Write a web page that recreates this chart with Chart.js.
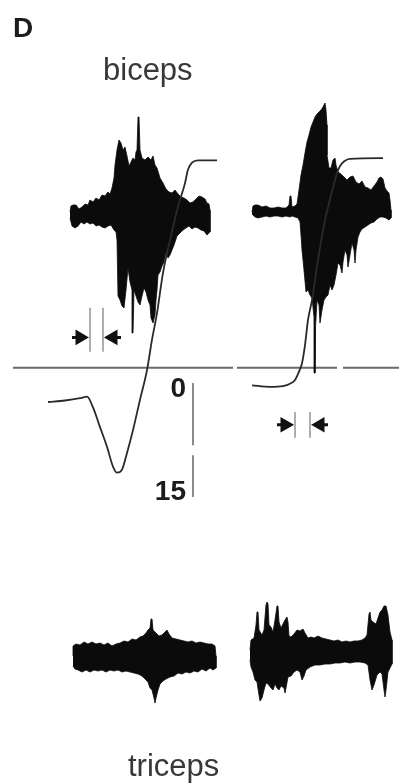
<!DOCTYPE html>
<html>
<head>
<meta charset="utf-8">
<script src="https://cdn.jsdelivr.net/npm/chart.js@4/dist/chart.umd.min.js"></script>
<style>
  html, body { margin: 0; padding: 0; background: #fff; }
  #wrap { width: 399px; height: 784px; position: relative; }
</style>
</head>
<body>
<div id="wrap"><canvas id="emg"></canvas></div>
<script>
// Time in ms. EMG in arbitrary units about each channel's baseline.
// Elbow angle in degrees (downward positive on the drawn axis).

// ---- biceps, trial A (left) : upper edge left->right, lower edge right->left
const bicepsA_upper = [[140,0],[142,6],[146,7],[152,7],[158,3],[164,5],[170,8],[176,7],[180,12],[186,10],[192,14],[198,12],[204,17],[210,16],[216,20],[220,18],[224,24],[228,34],[230,47],[234,62],[238,72],[242,69],[246,62],[250,65],[254,56],[258,46],[262,50],[266,54],[270,52],[272,60],[274,62],[276,95],[278,95],[280,62],[284,54],[290,52],[296,55],[302,52],[306,56],[310,47],[314,44],[320,34],[326,29],[332,23],[338,20],[344,19],[350,22],[356,18],[362,15],[368,14],[374,12],[380,9],[386,10],[392,13],[398,16],[404,15],[410,13],[414,9],[418,8],[420,2]];
const bicepsA_lower = [[420,-20],[414,-23],[408,-19],[402,-18],[396,-16],[390,-15],[384,-17],[378,-14],[372,-16],[366,-18],[360,-21],[354,-24],[348,-33],[344,-38],[340,-43],[336,-46],[332,-40],[328,-50],[324,-54],[320,-60],[316,-63],[314,-78],[312,-88],[310,-103],[306,-111],[302,-106],[300,-93],[296,-88],[292,-80],[288,-76],[284,-84],[280,-93],[276,-90],[272,-84],[268,-78],[266,-121],[265,-121],[264,-78],[260,-70],[256,-56],[252,-78],[248,-96],[244,-94],[240,-88],[236,-84],[234,-28],[232,-20],[228,-18],[222,-13],[216,-14],[210,-16],[204,-15],[198,-13],[192,-14],[186,-11],[180,-12],[174,-10],[168,-12],[162,-10],[156,-14],[150,-16],[144,-14],[140,-6]];

// ---- biceps, trial B (right)
const bicepsB_upper = [[504,0],[506,6],[510,7],[516,7],[524,5],[532,6],[540,4],[548,4],[556,5],[564,4],[572,4],[578,7],[580,16],[582,16],[584,5],[590,6],[594,8],[598,22],[602,37],[606,47],[610,59],[614,70],[618,77],[622,85],[626,90],[630,95],[634,98],[638,100],[642,102],[646,105],[650,109],[652,102],[654,87],[654,57],[658,44],[662,44],[666,52],[670,54],[672,47],[676,40],[682,38],[688,35],[694,32],[700,35],[706,36],[712,30],[718,28],[724,31],[730,25],[736,24],[742,22],[748,26],[754,30],[758,34],[762,35],[766,33],[770,24],[774,21],[778,19],[780,12],[782,2]];
const bicepsB_lower = [[782,-6],[778,-8],[772,-6],[766,-5],[760,-5],[754,-7],[748,-10],[742,-11],[736,-13],[730,-15],[724,-17],[720,-20],[716,-25],[712,-38],[710,-51],[708,-38],[704,-31],[700,-43],[696,-55],[694,-43],[690,-38],[686,-50],[684,-61],[680,-53],[676,-51],[672,-63],[668,-73],[664,-78],[660,-73],[656,-83],[652,-85],[648,-88],[644,-98],[640,-111],[638,-93],[634,-88],[631,-115],[630,-161],[629,-161],[628,-105],[624,-86],[620,-83],[616,-78],[612,-80],[608,-58],[604,-38],[602,-23],[600,-10],[596,-6],[590,-5],[584,-4],[580,-5],[572,-4],[564,-5],[556,-4],[548,-4],[540,-5],[532,-4],[524,-5],[516,-6],[510,-5],[504,-2]];

// ---- triceps, trial A (left)
const tricepsA_upper = [[146,0],[146,10],[152,12],[160,11],[168,14],[176,12],[184,14],[192,12],[200,13],[208,11],[216,13],[224,10],[232,12],[240,13],[248,15],[256,14],[264,17],[272,16],[280,19],[286,20],[292,23],[296,26],[300,28],[302,37],[304,37],[306,26],[312,23],[318,20],[324,21],[330,24],[334,26],[338,22],[344,18],[352,17],[360,16],[368,15],[376,14],[384,15],[392,13],[400,14],[408,13],[416,12],[424,12],[430,10],[432,0]];
const tricepsA_lower = [[432,-12],[426,-14],[420,-12],[412,-15],[404,-13],[396,-16],[388,-15],[380,-17],[372,-16],[364,-18],[356,-17],[348,-20],[340,-21],[332,-23],[326,-25],[320,-28],[316,-34],[312,-42],[310,-47],[308,-42],[304,-34],[300,-32],[296,-26],[290,-23],[284,-20],[276,-18],[268,-17],[260,-16],[252,-15],[244,-16],[236,-14],[228,-15],[220,-14],[212,-16],[204,-14],[196,-15],[188,-14],[180,-16],[172,-14],[164,-16],[156,-14],[150,-13],[146,-10]];

// ---- triceps, trial B (right)
const tricepsB_upper = [[500,6],[502,16],[508,18],[512,31],[514,44],[516,44],[518,26],[524,21],[528,26],[532,51],[534,54],[536,52],[538,31],[542,29],[546,24],[550,36],[554,50],[556,50],[558,34],[562,28],[566,32],[570,36],[574,39],[576,34],[578,20],[582,19],[588,22],[594,26],[600,25],[606,27],[610,23],[616,18],[622,19],[628,18],[636,20],[644,18],[652,17],[660,16],[668,15],[676,16],[684,14],[692,15],[700,14],[708,15],[716,15],[724,16],[730,18],[734,21],[738,42],[740,44],[742,36],[746,34],[752,32],[756,38],[760,44],[764,46],[768,50],[772,50],[776,41],[780,24],[784,16],[784,6]];
const tricepsB_lower = [[784,-8],[780,-12],[776,-16],[772,-34],[770,-41],[768,-34],[764,-18],[760,-16],[754,-19],[748,-29],[744,-34],[740,-24],[736,-9],[730,-7],[720,-6],[710,-6],[700,-7],[690,-6],[680,-7],[670,-7],[660,-8],[650,-8],[640,-9],[630,-9],[620,-11],[612,-14],[608,-20],[604,-24],[600,-16],[594,-14],[588,-16],[582,-20],[576,-21],[572,-32],[570,-37],[568,-32],[562,-30],[558,-34],[554,-32],[550,-28],[546,-34],[542,-32],[536,-28],[532,-27],[528,-34],[524,-42],[520,-45],[518,-39],[514,-26],[510,-24],[506,-16],[502,-11],[500,-4]];

// ---- elbow angle traces
const angleA = [[96,2.5],[130,2.3],[160,2.0],[174,1.8],[186,3.2],[200,5.8],[214,8.4],[226,11.0],[234,11.8],[244,11.4],[254,9.2],[266,6.2],[280,2.2],[294,-1.7],[304,-5.7],[314,-9.2],[326,-14.5],[340,-18.8],[356,-23.2],[370,-26.3],[376,-28.1],[384,-29.0],[396,-29.3],[434,-29.3]];
const angleB = [[504,0.3],[540,0.5],[566,0.4],[580,0.1],[590,-0.4],[598,-1.5],[604,-2.6],[610,-5.0],[616,-8.3],[624,-10.9],[636,-16.2],[650,-21.4],[662,-24.7],[670,-26.7],[676,-28.0],[684,-28.9],[700,-29.5],[766,-29.6]];

// ---- reference level, angle scale bar, interval cues
const referenceAngle = -2.0;
const referenceSpans = [[26,466],[474,674],[686,798]];
const scaleBarTime = 386;
const scaleBarRange = [0, 15];
const cueTimesA = [180, 206];
const cueTimesB = [590, 620];

// ---------------------------------------------------------------
const pts = arr => arr.map(([x, y]) => ({ x, y }));
const outline = (upper, lower) => pts(upper.concat(lower));

const INK = '#0b0b0b';
const emgSet = (upper, lower, axis) => ({
  data: outline(upper, lower), yAxisID: axis,
  fill: 'shape', backgroundColor: INK, borderColor: INK, borderWidth: 0.8,
  pointRadius: 0, tension: 0, clip: false
});
const lineSet = (data, color, width, extra) => Object.assign({
  data, yAxisID: 'ang', borderColor: color, borderWidth: width,
  fill: false, pointRadius: 0, tension: 0, spanGaps: false, clip: false
}, extra || {});

function refLine() {
  const d = [];
  referenceSpans.forEach(([a, b], i) => {
    if (i) d.push({ x: a - 2, y: null });
    d.push({ x: a, y: referenceAngle }, { x: b, y: referenceAngle });
  });
  return d;
}
function barLine() {
  const [lo, hi] = scaleBarRange;
  return [{ x: scaleBarTime, y: lo }, { x: scaleBarTime, y: 8.2 }, { x: scaleBarTime, y: null },
          { x: scaleBarTime, y: 9.5 }, { x: scaleBarTime, y: hi }];
}
function cueBars(times, lo, hi) {
  return [{ x: times[0], y: lo }, { x: times[0], y: hi }, { x: times[0], y: null },
          { x: times[1], y: lo }, { x: times[1], y: hi }];
}
function cueShafts(times, level) {
  return [{ x: times[0] - 36, y: level }, { x: times[0] - 22, y: level }, { x: times[0], y: null },
          { x: times[1] + 22, y: level }, { x: times[1] + 36, y: level }];
}
function cueHeads(times, level) {
  return [{ x: times[0] - 20, y: level }, { x: times[1] + 20, y: level }];
}
const headSet = (times, level) => ({
  data: cueHeads(times, level), yAxisID: 'ang', showLine: false,
  pointStyle: 'triangle', pointRadius: 7.5, pointRotation: [90, -90],
  pointBackgroundColor: '#111', pointBorderColor: '#111', pointBorderWidth: 1.5, clip: false
});

const panelText = {
  id: 'panelText',
  beforeDraw(chart) {
    const c = chart.ctx;
    c.save(); c.fillStyle = '#fff'; c.fillRect(0, 0, chart.width, chart.height); c.restore();
  },
  afterDraw(chart) {
    const c = chart.ctx, xs = chart.scales.x, as = chart.scales.ang;
    c.save();
    c.fillStyle = '#1c1c1c';
    c.textBaseline = 'alphabetic';
    c.font = 'bold 28px "Liberation Sans", Arial, sans-serif';
    c.fillText('D', 13, 37);
    c.fillStyle = '#383838';
    c.font = '31px "Liberation Sans", Arial, sans-serif';
    c.fillText('biceps', 103, 80);
    c.fillText('triceps', 128, 776);
    c.fillStyle = '#1c1c1c';
    c.font = 'bold 28px "Liberation Sans", Arial, sans-serif';
    c.textAlign = 'right';
    const bx = xs.getPixelForValue(scaleBarTime) - 7;
    c.fillText(String(scaleBarRange[0]), bx, as.getPixelForValue(scaleBarRange[0]) + 14);
    c.fillText(String(scaleBarRange[1]), bx, as.getPixelForValue(scaleBarRange[1]) + 3);
    c.restore();
  }
};

new Chart(document.getElementById('emg'), {
  type: 'line',
  data: {
    datasets: [
      headSet(cueTimesA, -6.0),
      headSet(cueTimesB, 5.5),
      lineSet(cueShafts(cueTimesA, -6.0), '#111', 3),
      lineSet(cueShafts(cueTimesB, 5.5), '#111', 3),
      lineSet(cueBars(cueTimesA, -9.9, -4.1), '#9a9a9a', 1.6),
      lineSet(cueBars(cueTimesB, 3.8, 7.2), '#9a9a9a', 1.6),
      lineSet(pts(angleA), '#2a2a2a', 1.8, { cubicInterpolationMode: 'monotone' }),
      lineSet(pts(angleB), '#2a2a2a', 1.8, { cubicInterpolationMode: 'monotone' }),
      emgSet(bicepsA_upper, bicepsA_lower, 'emgB'),
      emgSet(bicepsB_upper, bicepsB_lower, 'emgB'),
      emgSet(tricepsA_upper, tricepsA_lower, 'emgT'),
      emgSet(tricepsB_upper, tricepsB_lower, 'emgT'),
      lineSet(barLine(), '#8a8a8a', 2),
      lineSet(refLine(), '#6a6a6a', 2)
    ]
  },
  options: {
    responsive: true,
    maintainAspectRatio: false,
    animation: false,
    events: [],
    layout: { padding: 0, autoPadding: false },
    plugins: { legend: { display: false }, tooltip: { enabled: false }, title: { display: false } },
    scales: {
      x:    { type: 'linear', min: 0, max: 798, display: false, bounds: 'data' },
      emgB: { type: 'linear', min: -572, max: 212, display: false, bounds: 'data' },
      emgT: { type: 'linear', min: -128, max: 656, display: false, bounds: 'data' },
      ang:  { type: 'linear', min: -50.395, max: 52.763, reverse: true, display: false, bounds: 'data' }
    }
  },
  plugins: [panelText]
});
</script>
</body>
</html>
